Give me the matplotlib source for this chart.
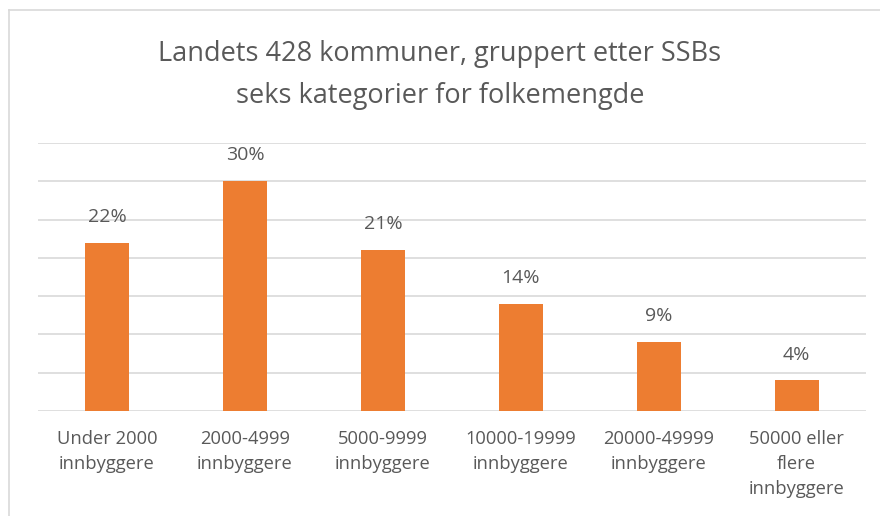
import matplotlib.pyplot as plt
from matplotlib.lines import Line2D

# Data
kategorier = ["Under 2000\ninnbyggere", "2000-4999\ninnbyggere", "5000-9999\ninnbyggere",
              "10000-19999\ninnbyggere", "20000-49999\ninnbyggere", "50000 eller\nflere\ninnbyggere"]
andel = [22, 30, 21, 14, 9, 4]

TITTEL = "Landets 428 kommuner, gruppert etter SSBs\nseks kategorier for folkemengde"
ORANSJE = "#ED7D31"
TEKST = "#595959"

plt.rcParams['font.family'] = ['Open Sans', 'DejaVu Sans']

fig = plt.figure(figsize=(8.8, 5.16), dpi=100)
ax = fig.add_axes([0.0432, 0.2035, 0.9405, 0.5194])

x = range(len(kategorier))
bars = ax.bar(x, andel, width=0.32, color=ORANSJE, zorder=3)

for b, v in zip(bars, andel):
    ax.text(b.get_x() + b.get_width() / 2, v + 2.2, f"{v}%", ha='center', va='bottom',
            fontsize=14, color=TEKST)

ax.set_xlim(-0.5, len(kategorier) - 0.5)
ax.set_ylim(0, 35)
ax.set_yticks(range(0, 36, 5))
ax.yaxis.grid(True, color="#d9d9d9", linewidth=1.2, zorder=0)
ax.tick_params(axis='y', left=False, labelleft=False)
ax.tick_params(axis='x', length=0, pad=14, labelsize=13.2, labelcolor=TEKST)
ax.set_xticks(list(x))
ax.set_xticklabels(kategorier, linespacing=1.5)
for s in ax.spines.values():
    s.set_visible(False)

fig.text(0.5, 0.855, TITTEL, ha='center', va='center', fontsize=19.5, color=TEKST,
         linespacing=1.65)

# ramme rundt figuren (venstre og topp)
fig.add_artist(Line2D([0.0097, 0.0097], [0, 0.98], transform=fig.transFigure,
                      color="#d9d9d9", linewidth=1.2))
fig.add_artist(Line2D([0.0097, 1.0], [0.98, 0.98], transform=fig.transFigure,
                      color="#d9d9d9", linewidth=1.2))

fig.savefig("out.png", dpi=100)
